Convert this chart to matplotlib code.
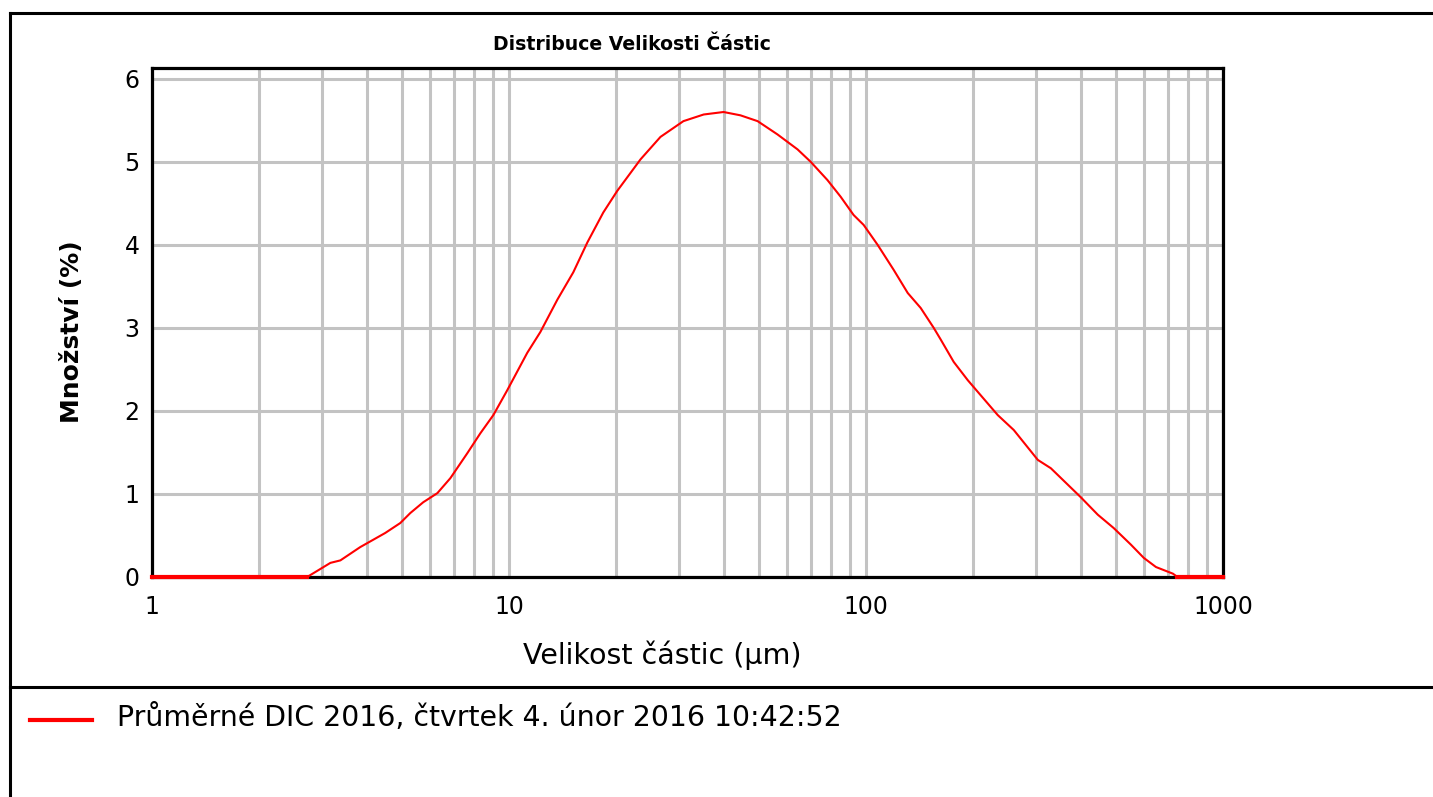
import matplotlib
matplotlib.use("Agg")
import matplotlib.pyplot as plt
from matplotlib.lines import Line2D

# particle size (um) and amount (%)
size_um = [1, 2.72, 3.16, 3.37, 3.83, 4.50, 4.96, 5.29, 5.75, 6.30, 6.85, 7.64, 8.31,
           9.04, 9.89, 11.25, 12.24, 13.66, 15.14, 16.58, 18.37, 20.1, 23.36, 26.56,
           30.8, 35.1, 39.9, 44.5, 49.7, 56.5, 64.3, 70.0, 78.0, 84.9, 92.3, 98.5,
           107.8, 119.5, 130.9, 142.3, 154.8, 161.9, 176.1, 192.8, 205.6, 233.9,
           259.4, 302.9, 329.4, 399.7, 446, 494, 552, 600, 649, 724, 745, 1000]
amount = [0, 0, 0.17, 0.20, 0.36, 0.53, 0.65, 0.77, 0.90, 1.01, 1.19, 1.49, 1.73,
          1.95, 2.25, 2.70, 2.95, 3.34, 3.67, 4.03, 4.39, 4.65, 5.03, 5.30,
          5.49, 5.57, 5.60, 5.56, 5.49, 5.33, 5.15, 5.00, 4.78, 4.58, 4.36, 4.24,
          4.00, 3.70, 3.42, 3.24, 3.00, 2.86, 2.59, 2.37, 2.23, 1.95,
          1.77, 1.41, 1.31, 0.96, 0.75, 0.59, 0.39, 0.23, 0.12, 0.04, 0, 0]

x_ticks = [1, 10, 100, 1000]
y_ticks = [0, 1, 2, 3, 4, 5, 6]
title = "Distribuce Velikosti Částic"
xlabel = "Velikost částic (µm)"
ylabel = "Množství (%)"
legend_text = "Průměrné DIC 2016, čtvrtek 4. únor 2016 10:42:52"

W, H = 1433, 797
fig = plt.figure(figsize=(W / 100, H / 100), dpi=100)
ax = fig.add_axes([152 / W, 1 - 577 / H, 1071 / W, 509 / H])

ax.set_xscale("log")
ax.set_xlim(1, 1000)
ax.set_ylim(0, 6.13)
ax.set_xticks(x_ticks)
ax.set_xticklabels([str(t) for t in x_ticks])
ax.set_yticks(y_ticks)
ax.set_yticklabels([str(t) for t in y_ticks])
ax.tick_params(axis="both", which="both", length=0, labelsize=17)
ax.tick_params(axis="x", pad=13)
ax.tick_params(axis="y", pad=9)

ax.grid(True, which="both", axis="x", color="#c3c3c3", lw=2.2)
ax.grid(True, which="major", axis="y", color="#c3c3c3", lw=2.2)
ax.set_axisbelow(True)
for sp in ax.spines.values():
    sp.set_linewidth(2.3)
    sp.set_color("black")

ax.plot(size_um, amount, color="red", lw=1.5, zorder=5, clip_on=False)
# the flat zero parts sit on the bottom spine and look thicker
ax.plot(size_um[:2], amount[:2], color="red", lw=3, zorder=6, clip_on=False)
ax.plot(size_um[-2:], amount[-2:], color="red", lw=3, zorder=6, clip_on=False)

fig.text(662 / W, 1 - 655 / H, xlabel, fontsize=20.5, ha="center", va="center")
fig.text(72 / W, 1 - 332 / H, ylabel, fontsize=18, fontweight="bold",
         rotation=90, ha="center", va="center")
fig.text(632 / W, 1 - 45 / H, title, fontsize=13.6, fontweight="bold",
         ha="center", va="center")

# outer frame and legend separator
frame_kw = dict(color="black", lw=2.2, transform=fig.transFigure)
fig.add_artist(Line2D([10 / W, 10 / W], [0, 1 - 13 / H], **frame_kw))
fig.add_artist(Line2D([10 / W, 1], [1 - 13 / H, 1 - 13 / H], **frame_kw))
fig.add_artist(Line2D([10 / W, 1], [1 - 687 / H, 1 - 687 / H], **frame_kw))

# legend entry
fig.add_artist(Line2D([30 / W, 92 / W], [1 - 720 / H, 1 - 720 / H],
                      color="red", lw=3, transform=fig.transFigure))
fig.text(117 / W, 1 - 718 / H, legend_text, fontsize=20.4, ha="left", va="center")

fig.savefig("out.png", dpi=100)
